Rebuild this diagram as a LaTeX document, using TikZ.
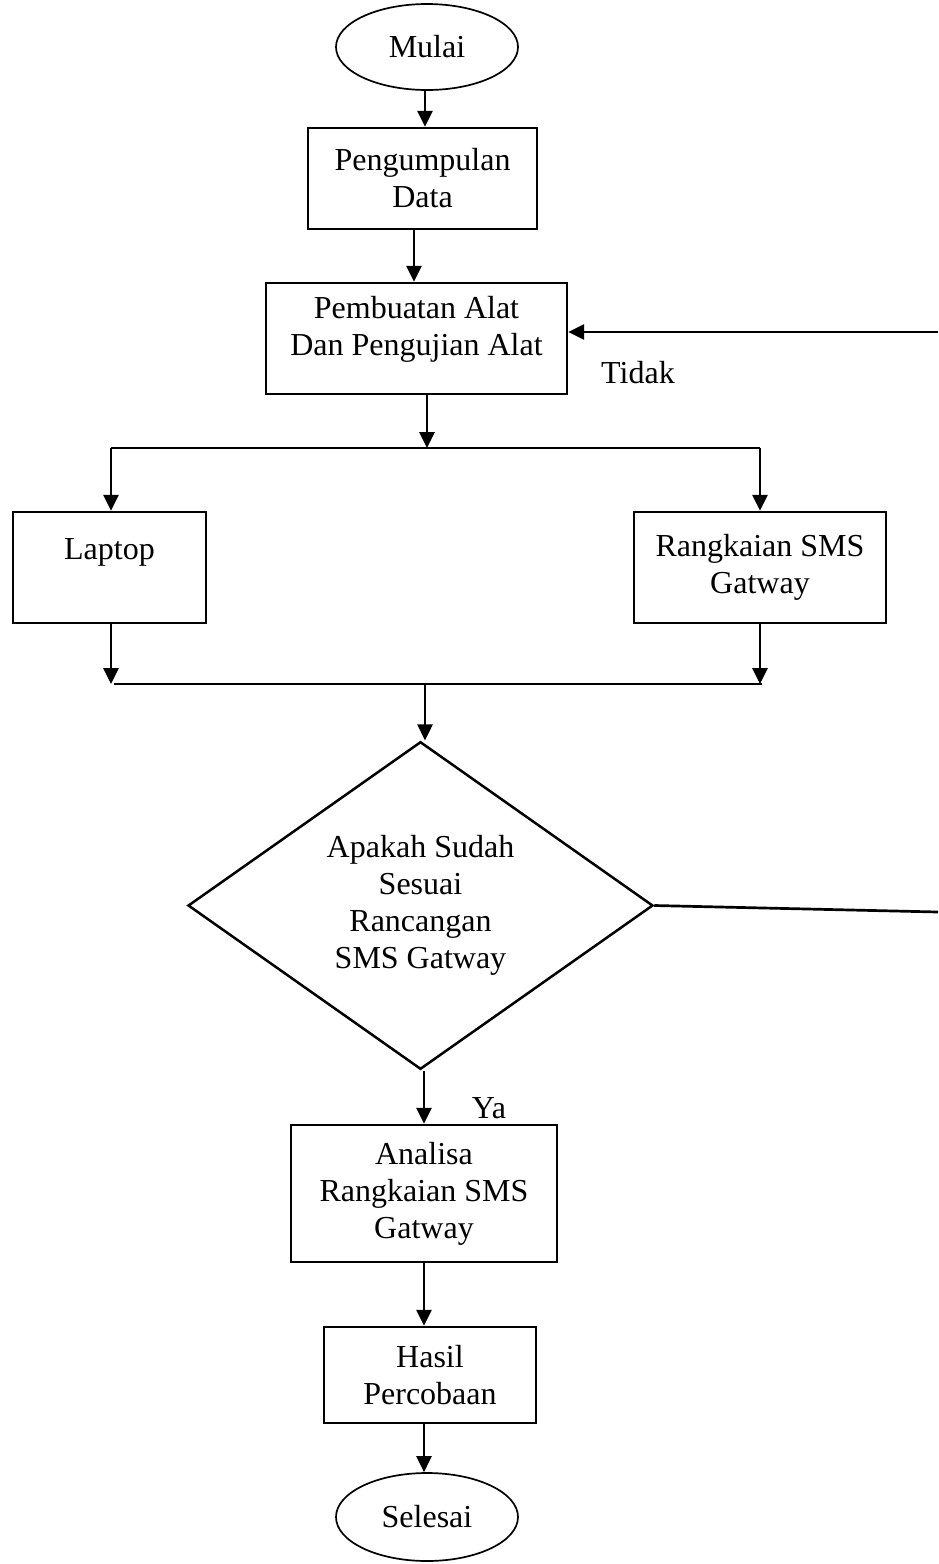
\documentclass[tikz,border=0pt]{standalone}
\usepackage{fontspec}
\setmainfont{Liberation Serif}
\usetikzlibrary{shapes.geometric,arrows.meta}
\tikzset{
  txt/.style={font=\fontsize{32}{37}\selectfont, align=center, inner sep=0pt},
  procbox/.style={txt, draw, line width=2.3pt, rectangle},
  term/.style={txt, draw, line width=1.7pt, ellipse},
  decis/.style={txt, draw, line width=2.5pt, diamond},
  conn/.style={line width=2.7pt},
  arr/.style={conn, -{Triangle[length=16pt,width=15pt]}}
}
\begin{document}
\begin{tikzpicture}[x=1pt,y=-1pt]
\useasboundingbox (0,0) rectangle (938,1564);
% nodes
\node[term, minimum width=182pt, minimum height=86pt] (mulai) at (427,47) {Mulai};
\node[procbox, minimum width=229pt, minimum height=101pt] (peng) at (422.5,178.5) {Pengumpulan\\Data};
\node[procbox, minimum width=301pt, minimum height=111pt] (pemb) at (416.5,338.5) {Pembuatan Alat\\Dan Pengujian Alat\\[-12pt]\mbox{}};
\node[procbox, minimum width=193pt, minimum height=111pt] (laptop) at (109.5,567.5) {Laptop\\\mbox{}};
\node[procbox, minimum width=252pt, minimum height=111pt] (rsms) at (760,567.5) {Rangkaian SMS\\Gatway};
\node[decis, minimum width=465pt, minimum height=315pt] (dec) at (420.5,905.5) {Apakah Sudah\\Sesuai\\Rancangan\\SMS Gatway};
\node[procbox, minimum width=266pt, minimum height=137pt] (ana) at (424,1193.5) {Analisa\\Rangkaian SMS\\Gatway};
\node[procbox, minimum width=212pt, minimum height=96pt] (has) at (430,1375) {Hasil\\Percobaan};
\node[term, minimum width=182pt, minimum height=88pt] (sel) at (427,1517) {Selesai};
\node[txt] (tidak) at (638,373) {Tidak};
\node[txt] (ya) at (489,1108) {Ya};
% coordinates
\coordinate (br) at (427,448);
\coordinate (bl) at (111,448);
\coordinate (brr) at (760,448);
\coordinate (ml) at (111,684);
\coordinate (mr) at (762,684);
\coordinate (mm) at (425,684);
\coordinate (rt) at (938,912);
\coordinate (tt) at (938,332);
% connectors
\draw[arr] (425,0 |- mulai.south) -- (425,0 |- peng.north);
\draw[arr] (414,0 |- peng.south) -- (414,0 |- pemb.north);
\draw[arr] (br |- pemb.south) -- (br);
\draw[conn] (bl) -- (brr);
\draw[arr] (bl) -- (bl |- laptop.north);
\draw[arr] (brr) -- (brr |- rsms.north);
\draw[arr] (laptop.south -| ml) -- (ml);
\draw[arr] (rsms.south -| brr) -- (brr |- ml);
\draw[conn] (114,684) -- (mr);
\draw[arr] (mm) -- (mm |- dec.north);
\draw[conn] (dec.east) -- (rt);
\draw[arr] (tt) -- (tt -| pemb.east);
\draw[arr] (ana.north |- dec.south) -- (ana.north);
\draw[arr] (ana.south) -- (ana.south |- has.north);
\draw[arr] (ana.south |- has.south) -- (ana.south |- sel.north);
\end{tikzpicture}
\end{document}
